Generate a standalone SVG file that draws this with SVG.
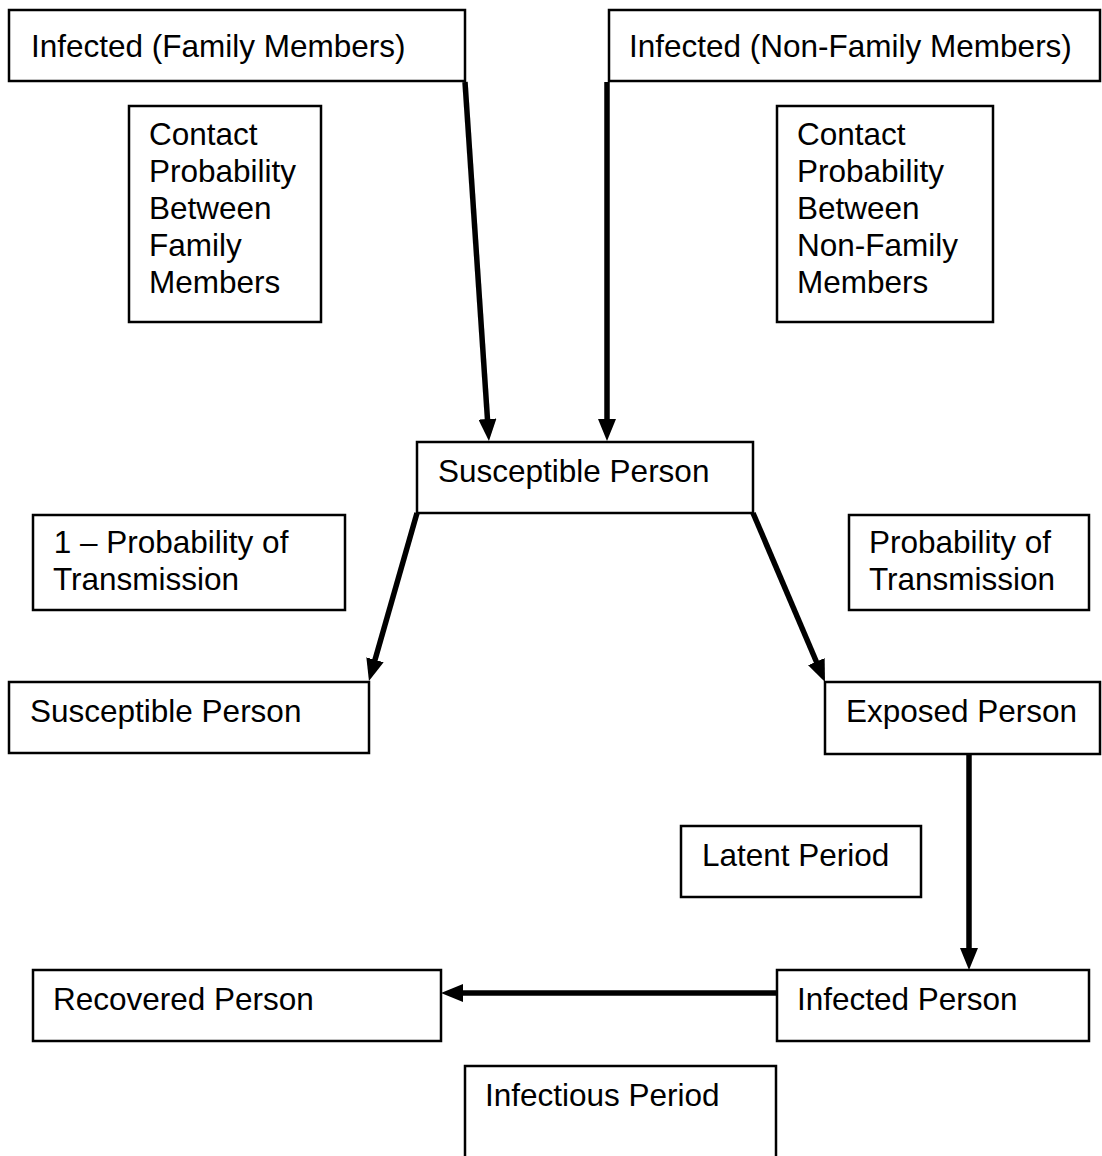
<svg xmlns="http://www.w3.org/2000/svg" width="1102" height="1156" viewBox="0 0 1102 1156">
<style>
.box{fill:#fff;stroke:#000;stroke-width:2.5}
.t{font-family:"Liberation Sans",Arial,sans-serif;font-size:31.5px;fill:#000}
.c{stroke:#000;stroke-width:5.5;fill:none;marker-end:url(#ah)}
</style>
<defs>
<marker id="ah" markerUnits="userSpaceOnUse" markerWidth="22" markerHeight="18" refX="8" refY="9" orient="auto">
<path d="M0,0 L22,9 L0,18 z" fill="#000"/>
</marker>
</defs>
<rect width="1102" height="1156" fill="#fff"/>
<g id="n-fam"><rect class="box" x="9" y="10" width="456" height="71"/><text class="t" x="31" y="57">Infected (Family Members)</text></g>
<g id="n-nonfam"><rect class="box" x="609" y="10" width="491" height="71"/><text class="t" x="629" y="57">Infected (Non-Family Members)</text></g>
<g id="n-cpfam"><rect class="box" x="129" y="106" width="192" height="216"/><text class="t"><tspan x="149" y="145">Contact</tspan><tspan x="149" y="182">Probability</tspan><tspan x="149" y="219">Between</tspan><tspan x="149" y="256">Family</tspan><tspan x="149" y="293">Members</tspan></text></g>
<g id="n-cpnon"><rect class="box" x="777" y="106" width="216" height="216"/><text class="t"><tspan x="797" y="145">Contact</tspan><tspan x="797" y="182">Probability</tspan><tspan x="797" y="219">Between</tspan><tspan x="797" y="256">Non-Family</tspan><tspan x="797" y="293">Members</tspan></text></g>
<g id="n-sus"><rect class="box" x="417" y="442" width="336" height="71"/><text class="t" x="438" y="482">Susceptible Person</text></g>
<g id="n-notrans"><rect class="box" x="33" y="515" width="312" height="95"/><text class="t" xml:space="preserve"><tspan x="45" y="553"> 1 – Probability of</tspan><tspan x="53" y="590">Transmission</tspan></text></g>
<g id="n-trans"><rect class="box" x="849" y="515" width="240" height="95"/><text class="t"><tspan x="869" y="553">Probability of</tspan><tspan x="869" y="590">Transmission</tspan></text></g>
<g id="n-sus2"><rect class="box" x="9" y="682" width="360" height="71"/><text class="t" x="30" y="722">Susceptible Person</text></g>
<g id="n-exp"><rect class="box" x="825" y="682" width="275" height="72"/><text class="t" x="846" y="722">Exposed Person</text></g>
<g id="n-latent"><rect class="box" x="681" y="826" width="240" height="71"/><text class="t" x="702" y="866">Latent Period</text></g>
<g id="n-inf"><rect class="box" x="777" y="970" width="312" height="71"/><text class="t" x="797" y="1010">Infected Person</text></g>
<g id="n-rec"><rect class="box" x="33" y="970" width="408" height="71"/><text class="t" x="53" y="1010">Recovered Person</text></g>
<g id="n-infper"><rect class="box" x="465" y="1066" width="311" height="100"/><text class="t" x="485" y="1106">Infectious Period</text></g>
<g id="connectors">
<line class="c" x1="465" y1="82" x2="488" y2="427"/>
<line class="c" x1="607" y1="82" x2="607" y2="427"/>
<line class="c" x1="417" y1="513" x2="372.8" y2="667.5"/>
<line class="c" x1="753" y1="513" x2="819.5" y2="669"/>
<line class="c" x1="969" y1="754" x2="969" y2="956"/>
<line class="c" x1="777" y1="993" x2="455" y2="993"/>
</g>
</svg>
